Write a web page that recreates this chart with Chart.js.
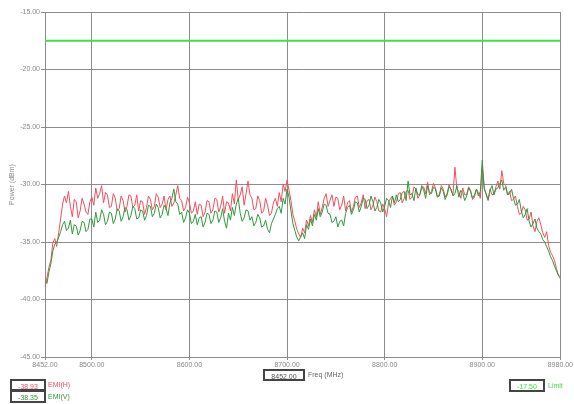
<!DOCTYPE html>
<html>
<head>
<meta charset="utf-8">
<script src="https://cdn.jsdelivr.net/npm/chart.js@4"></script>
<style>
  body { margin:0; background:#fff; font-family:"Liberation Sans", Arial, sans-serif; }
  #wrap { position:relative; width:574px; height:404px; overflow:hidden; }
  .box { position:absolute; border:2px solid #444; background:#fff; font-size:7px; text-align:center; line-height:7px; box-sizing:border-box; }
  .lbl { position:absolute; font-size:7px; line-height:9px; }
</style>
</head>
<body>
<div id="wrap">
  <canvas id="c" width="574" height="404"></canvas>
</div>
<script>
// sweep: 8452 MHz .. 8980 MHz, one point every 2 MHz
var freqStart = 8452;
var freqStep = 2;
var freqEnd = 8980;

// EMI(H) trace, dBm
var emiH = [
  -38.93,-38.1,-37.2,-36.6,-35.1,-34.7,-35.4,-34.2,-33.0,-31.7,
  -31.0,-31.6,-30.6,-31.9,-32.8,-31.3,-31.5,-32.9,-32.3,-31.2,
  -31.7,-32.4,-32.6,-31.5,-31.1,-31.8,-30.3,-31.2,-30.8,-30.1,
  -31.6,-30.7,-30.9,-32.0,-31.9,-30.8,-31.2,-32.3,-32.1,-31.0,
  -31.4,-32.4,-31.9,-30.9,-31.0,-32.0,-31.8,-30.9,-32.3,-31.4,
  -31.5,-32.6,-32.0,-31.0,-31.3,-32.2,-31.9,-30.8,-31.1,-32.0,
  -31.7,-31.0,-32.2,-31.3,-31.0,-31.9,-31.6,-30.9,-30.1,-31.2,
  -31.4,-32.3,-32.0,-31.1,-31.6,-32.5,-32.3,-31.5,-32.6,-31.7,
  -31.8,-32.8,-32.4,-31.4,-31.5,-32.5,-32.2,-31.2,-31.3,-32.4,
  -31.9,-31.0,-32.5,-31.5,-31.6,-32.3,-30.8,-31.7,-29.6,-31.3,
  -30.9,-30.2,-31.8,-30.8,-29.7,-30.9,-31.2,-32.2,-32.1,-31.0,
  -31.4,-32.5,-32.3,-31.2,-31.8,-32.7,-32.5,-31.6,-31.2,-31.9,
  -30.7,-31.5,-30.0,-30.6,-29.6,-30.5,-31.4,-32.6,-33.2,-33.9,
  -34.3,-34.6,-33.8,-34.2,-33.1,-33.6,-32.7,-33.3,-32.2,-32.8,
  -31.5,-32.6,-32.0,-31.2,-30.8,-31.9,-31.4,-30.9,-31.9,-31.1,
  -31.2,-32.2,-31.8,-31.0,-32.3,-31.6,-31.4,-32.4,-31.9,-31.1,
  -31.0,-32.0,-31.6,-30.9,-32.1,-31.4,-31.3,-32.2,-31.8,-31.1,
  -31.5,-32.3,-32.4,-31.7,-32.1,-32.8,-31.6,-31.2,-31.0,-31.8,
  -31.5,-30.8,-30.7,-31.6,-31.2,-30.6,-30.5,-31.3,-31.1,-30.2,
  -30.4,-31.2,-30.9,-30.3,-30.2,-30.8,-29.8,-30.9,-30.6,-29.9,
  -30.3,-31.0,-30.9,-30.1,-30.4,-31.1,-30.8,-30.0,-30.5,-30.9,
  -28.5,-30.4,-30.6,-31.2,-30.3,-30.9,-30.9,-30.2,-30.5,-31.3,
  -31.1,-30.4,-30.7,-31.2,-28.4,-30.2,-30.9,-31.4,-30.4,-30.9,
  -30.8,-30.2,-29.7,-30.4,-28.8,-29.9,-30.1,-30.9,-30.6,-31.4,
  -31.3,-31.0,-31.9,-32.6,-32.5,-31.9,-32.2,-33.1,-33.0,-32.4,
  -33.6,-34.1,-33.2,-32.9,-33.5,-34.2,-34.6,-34.1,-35.3,-35.9,
  -36.2,-36.6,-37.3,-37.9,-38.2
];

// EMI(V) trace, dBm
var emiV = [
  -38.35,-38.6,-37.6,-36.9,-35.8,-35.2,-35.0,-34.6,-34.1,-33.5,
  -33.2,-34.0,-33.8,-33.1,-34.3,-33.5,-33.6,-34.4,-34.0,-33.2,
  -33.3,-34.1,-33.9,-33.0,-33.0,-33.7,-32.4,-33.3,-33.1,-32.2,
  -32.6,-33.5,-33.2,-32.4,-32.5,-33.4,-33.0,-32.1,-32.3,-33.2,
  -32.8,-32.0,-32.2,-33.1,-32.7,-31.9,-32.1,-33.0,-32.9,-32.2,
  -32.3,-33.1,-32.7,-31.8,-31.9,-32.8,-32.5,-31.7,-32.0,-32.9,
  -32.6,-31.8,-32.1,-32.7,-31.6,-31.2,-30.4,-31.5,-31.7,-32.6,
  -32.4,-33.3,-32.9,-32.2,-32.5,-33.4,-33.2,-32.6,-33.5,-32.9,
  -32.8,-33.7,-33.3,-32.5,-32.6,-33.4,-33.1,-32.3,-32.4,-33.3,
  -32.9,-32.1,-33.2,-33.8,-32.5,-33.1,-32.0,-32.7,-31.7,-31.2,
  -32.5,-33.2,-32.9,-32.2,-32.3,-33.1,-32.8,-33.6,-33.3,-32.6,
  -32.9,-33.7,-33.6,-33.1,-33.9,-34.2,-33.4,-33.0,-32.6,-32.1,
  -31.9,-32.5,-31.2,-31.7,-30.4,-31.1,-32.3,-33.4,-34.0,-34.6,
  -34.9,-34.5,-34.2,-34.7,-33.5,-33.9,-33.0,-33.6,-32.6,-33.1,
  -32.1,-32.8,-32.4,-31.7,-31.8,-32.5,-32.6,-33.3,-33.2,-32.8,
  -33.7,-33.2,-33.1,-33.6,-32.5,-32.0,-31.8,-32.6,-32.2,-31.5,
  -31.6,-32.4,-31.9,-31.2,-31.3,-32.1,-31.8,-31.0,-31.5,-32.3,
  -32.0,-31.3,-31.6,-32.4,-31.9,-31.2,-31.4,-32.0,-31.0,-31.6,
  -30.9,-31.5,-31.3,-30.7,-30.6,-31.4,-29.7,-30.9,-30.8,-31.4,
  -30.3,-30.9,-30.9,-30.1,-30.5,-31.2,-30.1,-30.7,-30.8,-30.2,
  -30.4,-31.1,-31.0,-30.3,-30.6,-31.3,-30.9,-30.2,-30.4,-31.0,
  -30.8,-30.1,-31.1,-30.5,-30.7,-31.4,-31.0,-30.3,-30.6,-31.2,
  -30.9,-30.4,-31.0,-30.6,-27.9,-30.4,-30.8,-31.3,-30.5,-30.1,
  -30.9,-30.4,-30.3,-29.9,-29.6,-30.5,-30.2,-30.9,-30.8,-30.4,
  -31.2,-31.8,-31.7,-31.3,-32.3,-32.9,-32.6,-32.1,-33.2,-33.7,
  -33.4,-33.0,-33.8,-34.1,-34.3,-34.8,-35.0,-35.4,-35.8,-36.3,
  -36.6,-37.1,-37.5,-37.9,-38.0
];

var limitLevel = -17.5;
var markerFreq = 8452;

var xTicks = [8452, 8500, 8600, 8700, 8800, 8900, 8980];
var yTicks = [-45, -40, -35, -30, -25, -20, -15];

function toPoints(arr){
  var pts = [];
  for (var i = 0; i < arr.length; i++) {
    pts.push({x: freqStart + i*freqStep, y: arr[i]});
  }
  return pts;
}

var tickFont = {family:"Liberation Sans", size:7};
var ctx = document.getElementById("c");
var chart = new Chart(ctx, {
  type: 'line',
  data: {
    datasets: [
      {label:'EMI(H)', data: toPoints(emiH), borderColor:'#f0505e', borderWidth:1, pointRadius:0, order:2},
      {label:'EMI(V)', data: toPoints(emiV), borderColor:'#2e9a3c', borderWidth:1, pointRadius:0, order:1},
      {label:'Limit', data:[{x:freqStart,y:limitLevel},{x:freqEnd,y:limitLevel}], borderColor:'#3de23d', borderWidth:2, pointRadius:0, order:0}
    ]
  },
  options: {
    responsive:false,
    animation:false,
    layout:{padding:{left:0, right:9, top:12, bottom:33}},
    plugins:{legend:{display:false}, tooltip:{enabled:false}},
    scales:{
      x:{
        type:'linear', min:freqStart, max:freqEnd,
        afterBuildTicks: function(s){ s.ticks = xTicks.map(function(v){return {value:v};}); },
        afterFit: function(s){ s.height = 14; },
        ticks:{ font:tickFont, color:'#888', maxRotation:0, autoSkip:false, padding:1,
          callback:function(v){ return Number(v).toFixed(2); } },
        grid:{ color:'#8c8c8c', lineWidth:1, tickLength:3 },
        border:{ color:'#8c8c8c' }
      },
      y:{
        min:-45, max:-15,
        afterBuildTicks: function(s){ s.ticks = yTicks.map(function(v){return {value:v};}); },
        afterFit: function(s){ s.width = 45; },
        ticks:{ font:tickFont, color:'#888', padding:1,
          callback:function(v){ return Number(v).toFixed(2); } },
        grid:{ color:'#8c8c8c', lineWidth:1, tickLength:4 },
        border:{ color:'#8c8c8c' },
        title:{ display:true, text:'Power (dBm)', font:tickFont, color:'#888', padding:{top:8, bottom:0} }
      }
    }
  }
});

// marker readout boxes under the plot, built from the series
var wrap = document.getElementById("wrap");
function addBox(x, y, w, h, text, color){
  var d = document.createElement("div");
  d.className = "box";
  d.style.left = x+"px"; d.style.top = y+"px"; d.style.width = w+"px"; d.style.height = h+"px";
  d.style.color = color; d.style.paddingTop = ((h-11)/2+1)+"px";
  d.textContent = text;
  wrap.appendChild(d);
}
function addLabel(x, y, text, color){
  var d = document.createElement("div");
  d.className = "lbl";
  d.style.left = x+"px"; d.style.top = y+"px"; d.style.color = color;
  d.textContent = text;
  wrap.appendChild(d);
}
var mi = (markerFreq - freqStart)/freqStep;
addBox(10, 379, 36, 12, emiH[mi].toFixed(2), '#f0505e');
addLabel(48, 380, 'EMI(H)', '#f0505e');
addBox(10, 390, 36, 13, emiV[mi].toFixed(2), '#2e9a3c');
addLabel(48, 392, 'EMI(V)', '#2e9a3c');
addBox(263, 369, 42, 12, markerFreq.toFixed(2), '#555');
addLabel(308, 370, 'Freq (MHz)', '#666');
addBox(509, 379, 36, 13, limitLevel.toFixed(2), '#3de23d');
addLabel(548, 381, 'Limit', '#3de23d');
</script>
</body>
</html>
